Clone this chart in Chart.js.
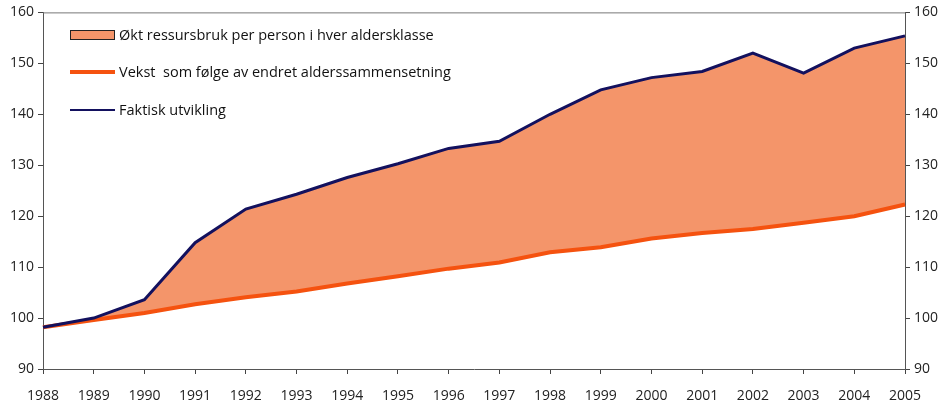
<!DOCTYPE html>
<html>
<head>
<meta charset="utf-8">
<script src="https://cdn.jsdelivr.net/npm/chart.js@4"></script>
<style>
  body { margin: 0; background: #fff; }
  #wrap { position: relative; width: 945px; height: 409px; }
  #legend { position: absolute; left: 70px; top: 24px; font-family: "Open Sans", sans-serif; font-size: 14.5px; color: #111; }
  .row { position: absolute; left: 0; white-space: nowrap; height: 20px; line-height: 20px; }
  .row span.sw { position: absolute; left: 0; }
  .row span.lbl { position: absolute; left: 49px; }
</style>
</head>
<body>
<div id="wrap">
  <canvas id="chartUtvikling" width="945" height="409"></canvas>
  <div id="legend">
    <div class="row" style="top:1px"><span class="sw" style="top:5px;width:43px;height:8px;background:#F4956A;border:1px solid #222"></span><span class="lbl">Økt ressursbruk per person i hver aldersklasse</span></div>
    <div class="row" style="top:38px"><span class="sw" style="top:8px;width:45px;height:4px;background:#F5520F"></span><span class="lbl">Vekst&nbsp; som følge av endret alderssammensetning</span></div>
    <div class="row" style="top:76px"><span class="sw" style="top:9px;width:45px;height:2px;background:#13115E"></span><span class="lbl">Faktisk utvikling</span></div>
  </div>
</div>
<script>
const years = ["1988", "1989", "1990", "1991", "1992", "1993", "1994", "1995", "1996",
    "1997", "1998", "1999", "2000", "2001", "2002", "2003", "2004", "2005"];
const alderssammensetning = [98.2, 99.6, 101.0, 102.7, 104.1, 105.2, 106.8, 108.2, 109.7,
    110.9, 112.9, 113.9, 115.6, 116.7, 117.5, 118.7, 120.0, 122.3];
const faktisk = [98.2, 100.0, 103.6, 114.8, 121.4, 124.3, 127.6, 130.3, 133.3,
    134.7, 140.0, 144.8, 147.2, 148.4, 152.0, 148.1, 153.0, 155.4];
const yTicks = [90, 100, 110, 120, 130, 140, 150, 160];

const tickFont = { family: "'Open Sans', sans-serif", size: 14 };

const topLine = {
    id: "topLine",
    afterDraw(chart) {
        const a = chart.chartArea;
        const c = chart.ctx;
        c.save();
        c.strokeStyle = "#777";
        c.lineWidth = 1;
        c.beginPath();
        c.moveTo(a.left, a.top + 0.5);
        c.lineTo(a.right, a.top + 0.5);
        c.stroke();
        c.restore();
    }
};

const axisY = (pos, width) => ({
    type: "linear",
    position: pos,
    min: 90,
    max: 160,
    afterBuildTicks: (s) => { s.ticks = yTicks.map(v => ({ value: v })); },
    afterFit: (s) => { s.width = width; },
    grid: { drawOnChartArea: false, drawTicks: true, tickLength: 5, color: "#444" },
    border: { color: "#555", width: 1 },
    ticks: { font: tickFont, color: "#222", padding: 4 }
});

new Chart(document.getElementById("chartUtvikling").getContext("2d"), {
    type: "line",
    data: {
        labels: years,
        datasets: [
            {
                label: "Vekst  som følge av endret alderssammensetning",
                data: alderssammensetning,
                borderColor: "#F5520F",
                borderWidth: 4,
                pointRadius: 0,
                fill: false,
                order: 1
            },
            {
                label: "Faktisk utvikling",
                data: faktisk,
                borderColor: "#13115E",
                borderWidth: 3,
                pointRadius: 0,
                backgroundColor: "#F4956A", // økt ressursbruk
                fill: "-1",
                order: 0
            }
        ]
    },
    options: {
        responsive: false,
        animation: false,
        layout: { padding: { top: 8, left: 0, right: 0, bottom: 0 } },
        plugins: {
            legend: { display: false },
            tooltip: { enabled: false },
            filler: { drawTime: "beforeDatasetsDraw" }
        },
        scales: {
            x: {
                offset: false,
                afterFit: (s) => { s.height = 40; },
                grid: { drawOnChartArea: false, drawTicks: true, tickLength: 5, color: "#444" },
                border: { color: "#555", width: 1 },
                ticks: { font: tickFont, color: "#222", maxRotation: 0, autoSkip: false, padding: 14 }
            },
            y: axisY("left", 43),
            y2: axisY("right", 40)
        }
    },
    plugins: [topLine]
});
</script>
</body>
</html>
